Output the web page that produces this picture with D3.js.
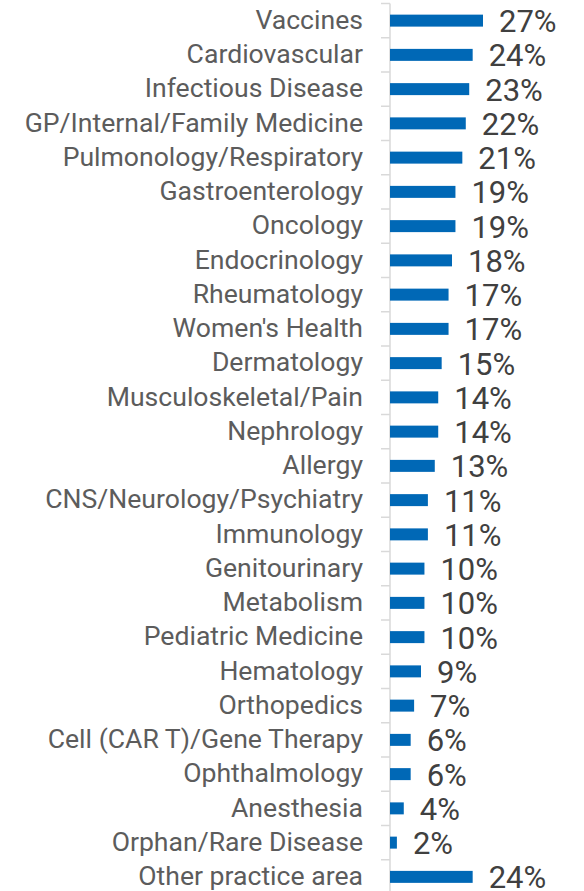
<!DOCTYPE html>
<html>
<head>
<meta charset="utf-8">
<script src="https://cdn.jsdelivr.net/npm/d3@7"></script>
<style>
	body { margin: 0; background: #fff; }
	svg text { font-family: Roboto, "Noto Sans", sans-serif; }
</style>
</head>
<body>
<div id="chart"></div>
<script>
var categories = [
	"Vaccines", "Cardiovascular", "Infectious Disease", "GP/Internal/Family Medicine",
	"Pulmonology/Respiratory", "Gastroenterology", "Oncology", "Endocrinology",
	"Rheumatology", "Women's Health", "Dermatology", "Musculoskeletal/Pain",
	"Nephrology", "Allergy", "CNS/Neurology/Psychiatry", "Immunology",
	"Genitourinary", "Metabolism", "Pediatric Medicine", "Hematology",
	"Orthopedics", "Cell (CAR T)/Gene Therapy", "Ophthalmology", "Anesthesia",
	"Orphan/Rare Disease", "Other practice area"
];
var values = [27, 24, 23, 22, 21, 19, 19, 18, 17, 17, 15, 14, 14, 13, 11, 11, 10, 10, 10, 9, 7, 6, 6, 4, 2, 24];
var valueLabels = values.map(function(v) { return v + "%"; });

var WIDTH = 584, HEIGHT = 891;
var AXIS_X = 390;

var svg = d3.select("#chart").append("svg")
	.attr("width", WIDTH)
	.attr("height", HEIGHT);

var y = d3.scaleBand()
	.domain(categories)
	.range([3.5, 894])
	.paddingInner(0.65)
	.paddingOuter(0.325);

var x = d3.scaleLinear()
	.domain([0, 27])
	.range([AXIS_X, AXIS_X + 93]);

// axis line + ticks at band edges
var axis = svg.append("g").attr("class", "axis");
axis.append("line")
	.attr("x1", AXIS_X).attr("x2", AXIS_X)
	.attr("y1", y.range()[0]).attr("y2", y.range()[1])
	.attr("stroke", "#d9d9d9").attr("stroke-width", 1.5);
var step = y.step();
var edges = d3.range(categories.length + 1).map(function(i) { return y.range()[0] + i * step; });
axis.selectAll(".tick").data(edges).enter().append("line")
	.attr("class", "tick")
	.attr("x1", AXIS_X - 9).attr("x2", AXIS_X)
	.attr("y1", function(d) { return d; }).attr("y2", function(d) { return d; })
	.attr("stroke", "#d9d9d9").attr("stroke-width", 1.5);

svg.selectAll(".bar").data(values).enter().append("rect")
	.attr("class", "bar")
	.attr("x", x(0))
	.attr("y", function(d, i) { return y(categories[i]); })
	.attr("width", function(d) { return x(d) - x(0); })
	.attr("height", y.bandwidth())
	.attr("fill", "#0068b6");

svg.selectAll(".cat").data(categories).enter().append("text")
	.attr("class", "cat")
	.attr("x", 363)
	.attr("y", function(d) { return y(d) + y.bandwidth() / 2; })
	.attr("dy", "0.31em")
	.attr("text-anchor", "end")
	.attr("font-size", "26.6px")
	.attr("fill", "#5c5c5c")
	.text(function(d) { return d; });

svg.selectAll(".val").data(values).enter().append("text")
	.attr("class", "val")
	.attr("x", function(d) { return x(d) + 16; })
	.attr("y", function(d, i) { return y(categories[i]) + y.bandwidth() / 2; })
	.attr("dy", "0.37em")
	.attr("font-size", "31px")
	.attr("fill", "#404040")
	.text(function(d, i) { return valueLabels[i]; });
</script>
</body>
</html>
